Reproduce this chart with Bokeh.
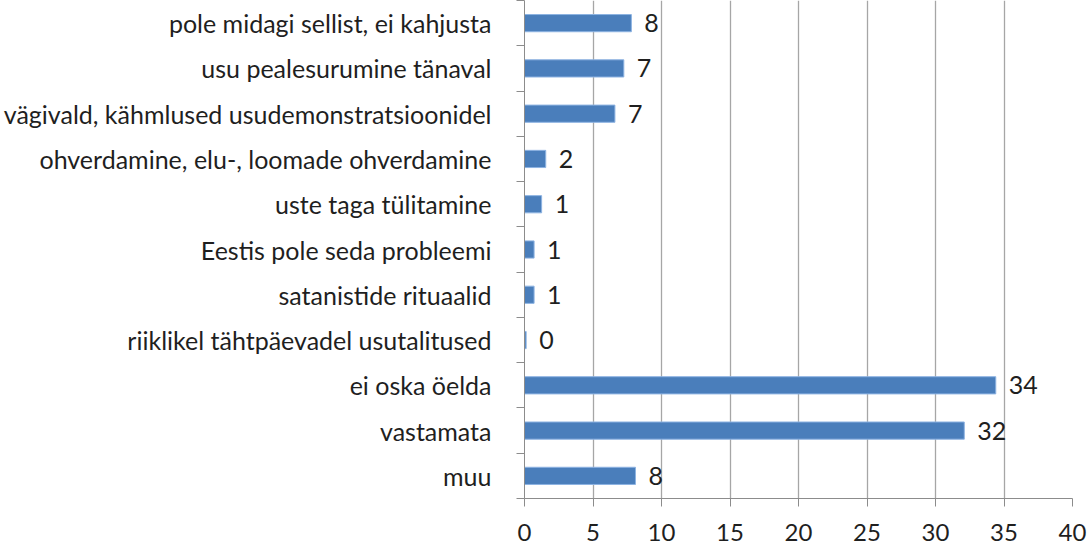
from bokeh.plotting import figure
from bokeh.models import FixedTicker, ColumnDataSource
from bokeh.core.properties import value
from bokeh.embed import file_html
from bokeh.resources import INLINE

categories = [
    "pole midagi sellist, ei kahjusta",
    "usu pealesurumine tänaval",
    "vägivald, kähmlused usudemonstratsioonidel",
    "ohverdamine, elu-, loomade ohverdamine",
    "uste taga tülitamine",
    "Eestis pole seda probleemi",
    "satanistide rituaalid",
    "riiklikel tähtpäevadel usutalitused",
    "ei oska öelda",
    "vastamata",
    "muu",
]
values = [7.8, 7.25, 6.6, 1.55, 1.25, 0.7, 0.7, 0.12, 34.4, 32.1, 8.1]
value_labels = ["8", "7", "7", "2", "1", "1", "1", "0", "34", "32", "8"]
x_ticks = [0, 5, 10, 15, 20, 25, 30, 35, 40]

n = len(categories)
ypos = [n - 1 - k + 0.5 for k in range(n)]

FONT = "Lato"
TXT = "#1f1f1f"

src = ColumnDataSource(dict(y=ypos, v=values, lab=value_labels, cat=categories))

p = figure(width=1088, height=544, x_range=(0, 40), y_range=(0, n),
           output_backend="svg", toolbar_location=None,
           min_border_left=524, min_border_right=16,
           min_border_top=0, min_border_bottom=46)
p.outline_line_color = None
p.background_fill_color = "white"
p.border_fill_color = "white"

p.hbar(y="y", right="v", left=0, height=0.38, source=src,
       fill_color="#4a7ebb", line_color="#8db3e2", line_width=1)

p.text(x="v", y="y", text="lab", source=src, x_offset=13,
       text_font=value(FONT), text_font_size="25px", text_color=TXT,
       text_baseline="middle", text_align="left")

# x axis
p.xaxis.ticker = FixedTicker(ticks=x_ticks)
p.xaxis.axis_line_color = "#8c8c8c"
p.xaxis.major_tick_line_color = "#8c8c8c"
p.xaxis.major_tick_out = 8
p.xaxis.major_tick_in = 0
p.xaxis.minor_tick_line_color = None
p.xaxis.major_label_standoff = 17
p.xaxis.major_label_text_font = FONT
p.xaxis.major_label_text_font_size = "24px"
p.xaxis.major_label_text_color = TXT

p.xgrid.ticker = FixedTicker(ticks=x_ticks)
p.xgrid.grid_line_color = "#a6a6a6"
p.xgrid.grid_line_width = 1.3
p.ygrid.visible = False

# y axis: labels at category centres, ticks at boundaries
p.yaxis.ticker = FixedTicker(ticks=ypos, minor_ticks=list(range(0, n + 1)))
p.yaxis.major_label_overrides = {y: c for y, c in zip(ypos, categories)}
p.yaxis.axis_line_color = "#8c8c8c"
p.yaxis.major_tick_line_color = None
p.yaxis.major_tick_out = 0
p.yaxis.major_tick_in = 0
p.yaxis.minor_tick_line_color = "#8c8c8c"
p.yaxis.minor_tick_out = 8
p.yaxis.minor_tick_in = 0
p.yaxis.major_label_standoff = 25
p.yaxis.major_label_text_font = FONT
p.yaxis.major_label_text_font_size = "25px"
p.yaxis.major_label_text_color = TXT

open("out.html", "w").write(file_html(p, INLINE))
